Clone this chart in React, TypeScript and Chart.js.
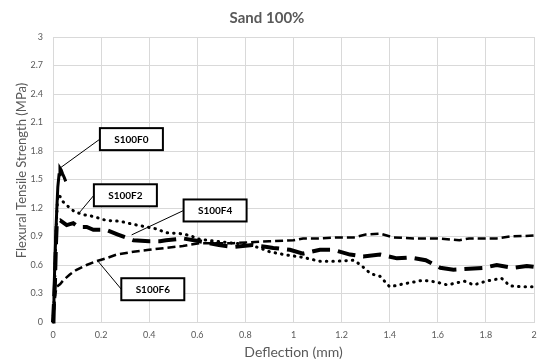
import React, { useEffect, useRef } from "react";
import { Chart, registerables } from "chart.js";

Chart.register(...registerables);

// ---- Data ----
const f0X = [0, 0.004, 0.008, 0.012, 0.016, 0.02, 0.025, 0.029, 0.034, 0.04, 0.047, 0.053];
const f0Y = [0, 0.3, 0.65, 0.95, 1.2, 1.42, 1.55, 1.62, 1.6, 1.56, 1.52, 1.48];

const f2X = [0, 0.006, 0.01, 0.015, 0.02, 0.03, 0.04, 0.07, 0.09, 0.126, 0.17, 0.22, 0.28, 0.33, 0.39, 0.43, 0.47, 0.53, 0.57, 0.61, 0.68, 0.75, 0.8, 0.86, 0.9, 0.96, 1.04, 1.11, 1.18, 1.25, 1.28, 1.32, 1.36, 1.4, 1.455, 1.54, 1.595, 1.64, 1.71, 1.75, 1.8, 1.865, 1.9, 1.95, 2.0];
const f2Y = [0, 0.3, 0.7, 1.1, 1.34, 1.32, 1.27, 1.2, 1.16, 1.13, 1.11, 1.07, 1.06, 1.03, 1.0, 0.98, 0.94, 0.93, 0.91, 0.87, 0.85, 0.83, 0.82, 0.78, 0.74, 0.71, 0.68, 0.64, 0.64, 0.65, 0.6, 0.51, 0.48, 0.37, 0.4, 0.44, 0.42, 0.39, 0.43, 0.39, 0.43, 0.46, 0.38, 0.37, 0.37];

const f4X = [0, 0.008, 0.012, 0.016, 0.03, 0.057, 0.084, 0.105, 0.14, 0.168, 0.22, 0.27, 0.334, 0.4, 0.445, 0.47, 0.54, 0.61, 0.69, 0.75, 0.83, 0.89, 0.916, 0.985, 1.04, 1.11, 1.165, 1.235, 1.29, 1.36, 1.43, 1.485, 1.55, 1.61, 1.665, 1.73, 1.79, 1.845, 1.91, 1.97, 2.0];
const f4Y = [0, 0.4, 0.8, 1.06, 1.07, 1.02, 1.04, 1.0, 1.0, 0.97, 0.97, 0.92, 0.86, 0.85, 0.85, 0.86, 0.88, 0.85, 0.81, 0.79, 0.81, 0.79, 0.78, 0.76, 0.72, 0.76, 0.76, 0.71, 0.69, 0.71, 0.67, 0.68, 0.65, 0.57, 0.55, 0.56, 0.57, 0.6, 0.57, 0.59, 0.58];

const f6X = [0, 0.005, 0.01, 0.015, 0.03, 0.043, 0.07, 0.098, 0.14, 0.18, 0.22, 0.265, 0.334, 0.4, 0.47, 0.54, 0.61, 0.68, 0.75, 0.82, 0.9, 1.0, 1.04, 1.11, 1.18, 1.25, 1.3, 1.36, 1.415, 1.5, 1.595, 1.69, 1.73, 1.845, 1.9, 2.0];
const f6Y = [0, 0.15, 0.3, 0.37, 0.4, 0.44, 0.5, 0.55, 0.6, 0.64, 0.67, 0.71, 0.74, 0.76, 0.78, 0.8, 0.83, 0.83, 0.83, 0.84, 0.85, 0.86, 0.88, 0.88, 0.89, 0.89, 0.92, 0.93, 0.89, 0.88, 0.88, 0.86, 0.88, 0.88, 0.9, 0.91];

const seriesNames = ["S100F0", "S100F2", "S100F4", "S100F6"];

// Callout labels (box centre and leader anchor, in data units)
const calloutLabels = ["S100F0", "S100F2", "S100F4", "S100F6"];
const calloutBoxX = [0.326, 0.301, 0.674, 0.415];
const calloutBoxY = [1.925, 1.334, 1.174, 0.345];
const calloutAnchorX = [0.029, 0.112, 0.327, 0.188];
const calloutAnchorY = [1.62, 1.158, 0.917, 0.637];

const title = "Sand 100%";
const xTitle = "Deflection (mm)";
const yTitle = "Flexural Tensile Strength (MPa)";

const toPoints = (xs: number[], ys: number[]) => xs.map((x, i) => ({ x, y: ys[i] }));
const fmt = (v: any) => String(Math.round(Number(v) * 10) / 10);

const FONT = "Lato, 'Open Sans', sans-serif";
const GRAY = "#595959";

const yTitlePlugin = {
  id: "yTitle",
  afterDraw(chart: any) {
    const { ctx, chartArea } = chart;
    ctx.save();
    ctx.translate(22, (chartArea.top + chartArea.bottom) / 2 - 9);
    ctx.rotate(-Math.PI / 2);
    ctx.fillStyle = GRAY;
    ctx.font = `13px ${FONT}`;
    ctx.textAlign = "center";
    ctx.textBaseline = "middle";
    ctx.fillText(yTitle, 0, 0);
    ctx.restore();
  },
};

const calloutPlugin = {
  id: "callouts",
  afterDatasetsDraw(chart: any) {
    const { ctx, scales } = chart;
    const xs = scales.x;
    const ys = scales.y;
    const w = 63;
    const h = 22;
    ctx.save();
    calloutLabels.forEach((label, i) => {
      const cx = xs.getPixelForValue(calloutBoxX[i]);
      const cy = ys.getPixelForValue(calloutBoxY[i]);
      const ax = xs.getPixelForValue(calloutAnchorX[i]);
      const ay = ys.getPixelForValue(calloutAnchorY[i]);
      ctx.strokeStyle = "#000";
      ctx.lineWidth = 1;
      ctx.beginPath();
      ctx.moveTo(cx - w / 2, cy);
      ctx.lineTo(ax, ay);
      ctx.stroke();
      ctx.fillStyle = "#fff";
      ctx.fillRect(cx - w / 2, cy - h / 2, w, h);
      ctx.lineWidth = 2;
      ctx.strokeRect(cx - w / 2, cy - h / 2, w, h);
      ctx.fillStyle = "#000";
      ctx.font = `bold 10px ${FONT}`;
      ctx.textAlign = "center";
      ctx.textBaseline = "middle";
      ctx.fillText(label, cx, cy + 0.5);
    });
    ctx.restore();
  },
};

export default function App() {
  const ref = useRef<HTMLCanvasElement | null>(null);

  useEffect(() => {
    document.body.style.margin = "0";
    const canvas = ref.current;
    if (!canvas) return;
    const chart = new Chart(canvas, {
      type: "scatter",
      data: {
        datasets: [
          {
            label: seriesNames[0],
            data: toPoints(f0X, f0Y),
            showLine: true,
            borderColor: "#000",
            borderWidth: 3,
            pointRadius: 0,
            clip: 6,
          },
          {
            label: seriesNames[1],
            data: toPoints(f2X, f2Y),
            showLine: true,
            borderColor: "#000",
            borderWidth: 3,
            borderDash: [0.5, 6],
            borderCapStyle: "round",
            pointRadius: 0,
            clip: 6,
          },
          {
            label: seriesNames[2],
            data: toPoints(f4X, f4Y),
            showLine: true,
            borderColor: "#000",
            borderWidth: 4,
            borderDash: [18, 8],
            pointRadius: 0,
            clip: 6,
          },
          {
            label: seriesNames[3],
            data: toPoints(f6X, f6Y),
            showLine: true,
            borderColor: "#000",
            borderWidth: 2.5,
            borderDash: [8, 4],
            pointRadius: 0,
            clip: 6,
          },
        ],
      },
      options: {
        responsive: false,
        animation: false,
        layout: { padding: { left: 0, right: 4, top: 0, bottom: 0 } },
        plugins: {
          legend: { display: false },
          tooltip: { enabled: false },
          title: {
            display: true,
            text: title,
            color: GRAY,
            font: { family: FONT, size: 15, weight: "bold" },
            padding: { top: 9, bottom: 10 },
          },
        },
        scales: {
          x: {
            type: "linear",
            min: 0,
            max: 2,
            ticks: {
              stepSize: 0.2,
              color: GRAY,
              font: { family: FONT, size: 9 },
              padding: 8,
              maxRotation: 0,
              callback: fmt,
            },
            grid: { color: "#d9d9d9", drawTicks: false },
            border: { color: "#d9d9d9" },
            title: {
              display: true,
              text: xTitle,
              color: GRAY,
              font: { family: FONT, size: 14 },
              padding: { top: 0, bottom: 3 },
            },
            afterFit: (s: any) => {
              s.height = 42;
              s.paddingRight = 0;
              s.paddingLeft = 0;
            },
          },
          y: {
            type: "linear",
            min: 0,
            max: 3,
            ticks: {
              stepSize: 0.3,
              color: GRAY,
              font: { family: FONT, size: 9 },
              padding: 10,
              callback: fmt,
            },
            grid: { color: "#d9d9d9", drawTicks: false },
            border: { color: "#d9d9d9" },
            title: { display: false },
            afterFit: (s: any) => {
              s.width = 53;
            },
          },
        },
      },
      plugins: [calloutPlugin, yTitlePlugin],
    } as any);
    return () => chart.destroy();
  }, []);

  return (
    <div style={{ width: 538, height: 364 }}>
      <canvas ref={ref} width={538} height={364} />
    </div>
  );
}
